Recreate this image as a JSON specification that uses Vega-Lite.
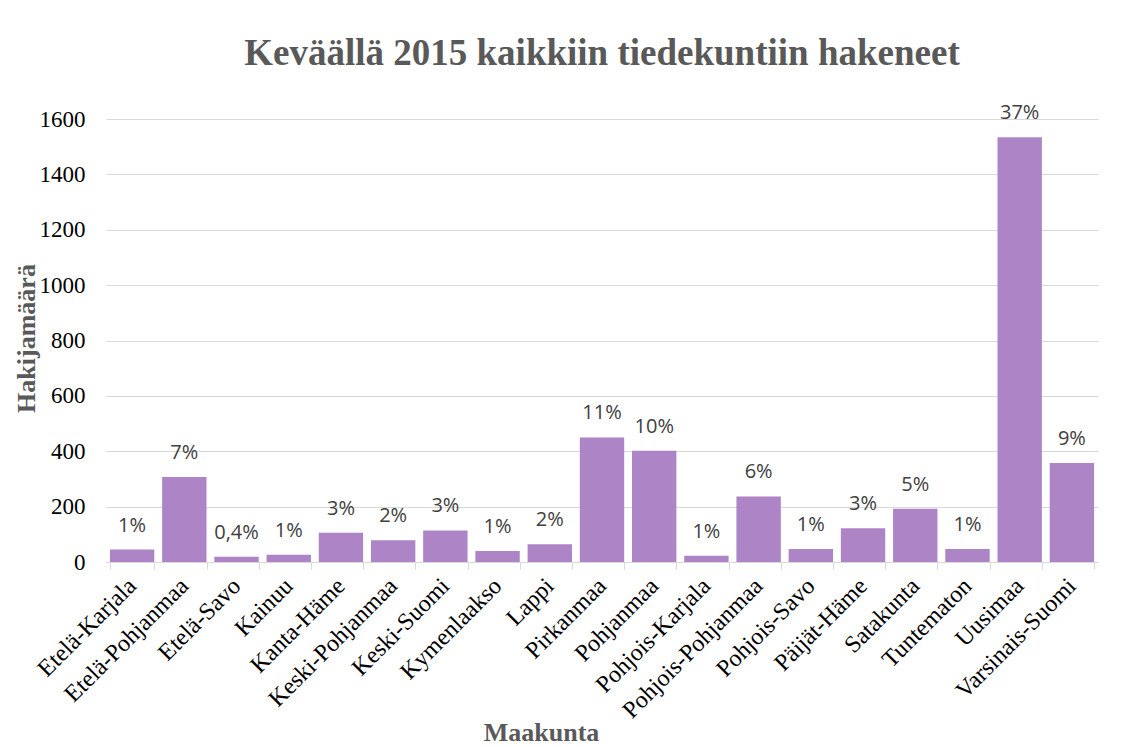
{
  "$schema": "https://vega.github.io/schema/vega-lite/v6.json",
  "width": 992,
  "height": 443,
  "autosize": "none",
  "padding": {"left": 106, "top": 119, "right": 33, "bottom": 185},
  "background": "white",
  "title": {
    "text": "Keväällä 2015 kaikkiin tiedekuntiin hakeneet",
    "font": "Liberation Serif",
    "fontWeight": "bold",
    "fontSize": 37,
    "color": "#595959",
    "anchor": "middle",
    "frame": "group",
    "offset": 30
  },
  "data": {
    "values": [
      {"maakunta": "Etelä-Karjala", "hakijat": 45, "osuus": "1%"},
      {"maakunta": "Etelä-Pohjanmaa", "hakijat": 307, "osuus": "7%"},
      {"maakunta": "Etelä-Savo", "hakijat": 19, "osuus": "0,4%"},
      {"maakunta": "Kainuu", "hakijat": 26, "osuus": "1%"},
      {"maakunta": "Kanta-Häme", "hakijat": 106, "osuus": "3%"},
      {"maakunta": "Keski-Pohjanmaa", "hakijat": 79, "osuus": "2%"},
      {"maakunta": "Keski-Suomi", "hakijat": 114, "osuus": "3%"},
      {"maakunta": "Kymenlaakso", "hakijat": 40, "osuus": "1%"},
      {"maakunta": "Lappi", "hakijat": 64, "osuus": "2%"},
      {"maakunta": "Pirkanmaa", "hakijat": 450, "osuus": "11%"},
      {"maakunta": "Pohjanmaa", "hakijat": 402, "osuus": "10%"},
      {"maakunta": "Pohjois-Karjala", "hakijat": 23, "osuus": "1%"},
      {"maakunta": "Pohjois-Pohjanmaa", "hakijat": 237, "osuus": "6%"},
      {"maakunta": "Pohjois-Savo", "hakijat": 47, "osuus": "1%"},
      {"maakunta": "Päijät-Häme", "hakijat": 122, "osuus": "3%"},
      {"maakunta": "Satakunta", "hakijat": 192, "osuus": "5%"},
      {"maakunta": "Tuntematon", "hakijat": 47, "osuus": "1%"},
      {"maakunta": "Uusimaa", "hakijat": 1534, "osuus": "37%"},
      {"maakunta": "Varsinais-Suomi", "hakijat": 358, "osuus": "9%"}
    ]
  },
  "encoding": {
    "x": {
      "field": "maakunta",
      "type": "nominal",
      "sort": null,
      "scale": {"paddingInner": 0.15, "paddingOuter": 0.075},
      "axis": {
        "title": "Maakunta",
        "titleFont": "Liberation Serif",
        "titleFontWeight": "bold",
        "titleFontSize": 26,
        "titleColor": "#595959",
        "titleX": 435,
        "titleY": 178,
        "titleBaseline": "alphabetic",
        "titleAlign": "center",
        "titleAnchor": null,
        "labelFont": "Liberation Serif",
        "labelFontSize": 24,
        "labelColor": "#000000",
        "labelAngle": -45,
        "labelAlign": "right",
        "labelBaseline": "middle",
        "labelPadding": 13,
        "labelLimit": 400,
        "labelFlush": false,
        "labelOverlap": false,
        "tickBand": "extent",
        "tickColor": "#D9D9D9",
        "tickSize": 7,
        "domainColor": "#D9D9D9",
        "grid": false
      }
    },
    "y": {
      "field": "hakijat",
      "type": "quantitative",
      "scale": {"domain": [0, 1600], "nice": false},
      "axis": {
        "title": "Hakijamäärä",
        "titleFont": "Liberation Serif",
        "titleFontWeight": "bold",
        "titleFontSize": 26,
        "titleColor": "#595959",
        "titleAngle": -90,
        "titleX": -72,
        "titleY": 219,
        "titleBaseline": "alphabetic",
        "titleAlign": "center",
        "titleAnchor": null,
        "values": [0, 200, 400, 600, 800, 1000, 1200, 1400, 1600],
        "format": "d",
        "labelFont": "Liberation Serif",
        "labelFontSize": 23,
        "labelColor": "#000000",
        "labelPadding": 21,
        "ticks": false,
        "domain": false,
        "grid": true,
        "gridColor": "#D9D9D9",
        "gridWidth": 1
      }
    }
  },
  "layer": [
    {"mark": {"type": "bar", "color": "#AD84C6"}},
    {
      "mark": {
        "type": "text",
        "font": "Open Sans",
        "fontSize": 20,
        "color": "#404040",
        "baseline": "alphabetic",
        "align": "center",
        "dy": -18
      },
      "encoding": {"text": {"field": "osuus"}}
    }
  ],
  "config": {"view": {"stroke": null}}
}
